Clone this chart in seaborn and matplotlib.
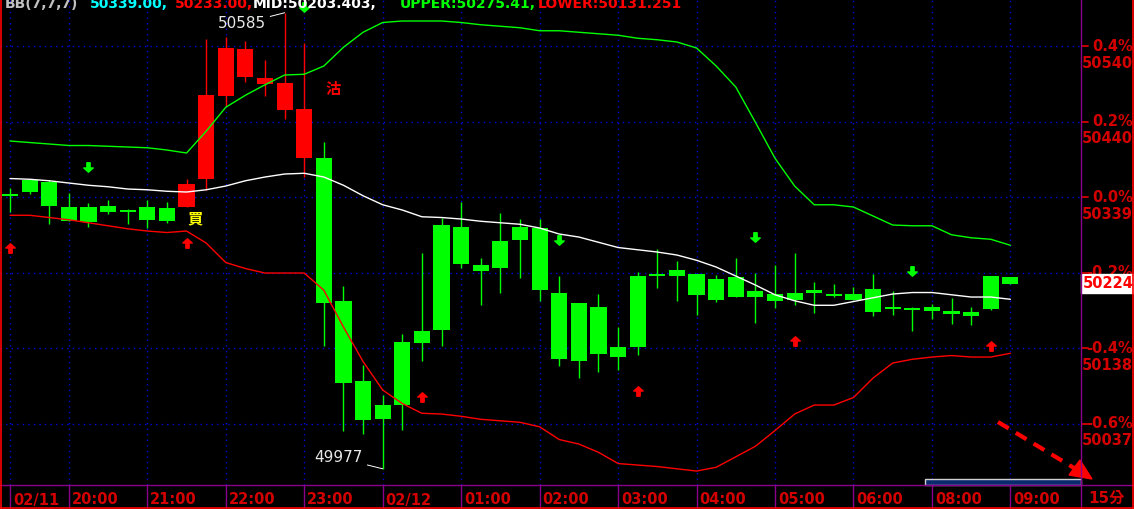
import numpy as np
import pandas as pd
import seaborn as sns
import matplotlib.pyplot as plt
from matplotlib import transforms
from matplotlib.path import Path
from matplotlib.lines import Line2D
from matplotlib.patches import Rectangle, Polygon

# 15 min bars, 02/11 19:15 -> 02/12 09:00
opens = [50342, 50362, 50360, 50326, 50326, 50327, 50322, 50326, 50325, 50326,
         50363, 50474, 50499, 50490, 50455, 50392, 50391, 50201, 50094, 50062,
         50146, 50161, 50302, 50299, 50249, 50281, 50299, 50298, 50211, 50198,
         50193, 50140, 50234, 50237, 50242, 50237, 50230, 50233, 50214, 50210,
         50211, 50215, 50210, 50210, 50217, 50193, 50190, 50193, 50185, 50186,
         50234, 50233]
highs = [50351, 50362, 50362, 50345, 50332, 50335, 50323, 50335, 50333, 50363,
         50550, 50553, 50547, 50522, 50585, 50545, 50413, 50221, 50115, 50075,
         50157, 50265, 50311, 50333, 50258, 50318, 50310, 50310, 50234, 50198,
         50210, 50166, 50239, 50270, 50254, 50237, 50235, 50258, 50238, 50249,
         50265, 50226, 50223, 50220, 50237, 50214, 50193, 50197, 50205, 50193,
         50234, 50233]
lows = [50320, 50343, 50303, 50307, 50300, 50317, 50303, 50298, 50305, 50326,
        50349, 50461, 50493, 50474, 50443, 50366, 50141, 50027, 50023, 49977,
        50029, 50121, 50141, 50245, 50195, 50211, 50231, 50201, 50114, 50098,
        50106, 50109, 50129, 50218, 50201, 50182, 50199, 50206, 50171, 50192,
        50195, 50185, 50206, 50202, 50181, 50182, 50161, 50177, 50170, 50169,
        50189, 50223]
closes = [50341, 50346, 50327, 50307, 50306, 50319, 50319, 50309, 50307, 50357,
          50475, 50538, 50537, 50498, 50491, 50457, 50198, 50091, 50042, 50043,
          50062, 50145, 50162, 50250, 50241, 50245, 50282, 50215, 50123, 50121,
          50130, 50126, 50139, 50234, 50234, 50209, 50202, 50206, 50206, 50201,
          50202, 50211, 50207, 50202, 50186, 50190, 50189, 50187, 50184, 50181,
          50190, 50224]

# bollinger bands as shown
upper = [50414, 50412, 50410, 50408, 50408, 50407, 50406, 50405, 50402, 50398,
         50427, 50459, 50475, 50489, 50502, 50503, 50514, 50539, 50559, 50572,
         50574, 50574, 50574, 50572, 50569, 50567, 50565, 50561, 50561, 50559,
         50557, 50555, 50551, 50549, 50546, 50538, 50514, 50486, 50439, 50391,
         50354, 50329, 50329, 50326, 50314, 50302, 50301, 50301, 50289, 50285,
         50283, 50275]
mid = [50364, 50363, 50361, 50358, 50355, 50353, 50350, 50349, 50347, 50346,
       50349, 50354, 50361, 50366, 50370, 50371, 50366, 50355, 50341, 50329,
       50322, 50313, 50312, 50310, 50307, 50305, 50303, 50298, 50290, 50286,
       50279, 50272, 50269, 50266, 50262, 50255, 50246, 50234, 50222, 50209,
       50201, 50195, 50195, 50200, 50205, 50210, 50212, 50212, 50209, 50206,
       50206, 50203]
lower = [50315, 50315, 50312, 50309, 50305, 50301, 50297, 50294, 50292, 50294,
         50278, 50252, 50244, 50238, 50238, 50238, 50215, 50166, 50120, 50082,
         50064, 50051, 50050, 50047, 50043, 50041, 50039, 50033, 50016, 50010,
         49999, 49984, 49982, 49980, 49977, 49974, 49979, 49993, 50007, 50028,
         50050, 50062, 50062, 50072, 50098, 50118, 50123, 50126, 50128, 50126,
         50126, 50131]

tick_idx = [0, 3, 7, 11, 15, 19, 23, 27, 31, 35, 39, 43, 47, 51]
tick_lbl = ['02/11', '20:00', '21:00', '22:00', '23:00', '02/12', '01:00',
            '02:00', '03:00', '04:00', '05:00', '06:00', '08:00', '09:00']
buy_idx = [0, 9, 21, 32, 40, 50]
sell_idx = [4, 15, 28, 38, 46]
pct_levels = [0.4, 0.2, 0.0, -0.2, -0.4, -0.6]
price_lbl = ['50540', '50440', '50339', '50238', '50138', '50037']
base = 50339
last = 50224

W, H = 1134, 509
RED = '#FF0000'
GRN = '#00FF00'
TXT = '#D40000'
BLUE = '#0000DD'
PURP = '#8B008B'

def fx(x):
    return x / W

def fy(y):
    return 1 - y / H

df = pd.DataFrame({'i': np.arange(len(opens)), 'open': opens, 'high': highs,
                   'low': lows, 'close': closes, 'upper': upper, 'mid': mid, 'lower': lower})

sns.set_style('dark', rc={'axes.facecolor': 'black', 'figure.facecolor': 'black'})
plt.rcParams['font.family'] = ['DejaVu Sans', 'Noto Sans CJK TC']

fig = plt.figure(figsize=(W / 100, H / 100), dpi=100)
ax = fig.add_axes([0, 24 / H, 1081 / W, 485 / H])
ax.set_facecolor('black')

# grid
for p in pct_levels:
    ax.axhline(base * (1 + p / 100), color=BLUE, lw=1, ls=(0, (1, 3)), zorder=1)
for i in tick_idx:
    ax.axvline(i, color=BLUE, lw=1, ls=(0, (1, 3)), zorder=1)

# candles
up = df.close > df.open
colors = np.where(up, RED, GRN)
body_lo = np.minimum(df.open, df.close)
body_h = np.maximum(np.abs(df.close - df.open), 3)
ax.vlines(df.i, df.low, df.high, colors=colors, lw=1, zorder=2)
ax.bar(df.i, body_h, bottom=body_lo, width=0.82, color=colors, linewidth=0, zorder=2)

# bands
sns.lineplot(data=df, x='i', y='upper', color=GRN, lw=1, ax=ax, zorder=3)
sns.lineplot(data=df, x='i', y='mid', color='white', lw=1, ax=ax, zorder=3)
sns.lineplot(data=df, x='i', y='lower', color=RED, lw=1, ax=ax, zorder=3)

ax.set_xlim(-0.51, 54.6)
ax.set_ylim(49955.4, 50602)
ax.set_xticks([])
ax.set_yticks([])
ax.set_xlabel('')
ax.set_ylabel('')
for s in ax.spines.values():
    s.set_visible(False)

# signal arrows
arrow_up = Path([(0, 1), (-1, 0.1), (-0.35, 0.1), (-0.35, -1), (0.35, -1),
                 (0.35, 0.1), (1, 0.1), (0, 1)], closed=True)
arrow_dn = Path([(x, -y) for x, y in arrow_up.vertices], closed=True)
t_below = transforms.offset_copy(ax.transData, fig=fig, x=0, y=-36, units='dots')
t_above = transforms.offset_copy(ax.transData, fig=fig, x=0, y=36, units='dots')
ax.plot(buy_idx, [lows[i] for i in buy_idx], ls='none', marker=arrow_up, ms=6.8,
        color=RED, mec=RED, transform=t_below, zorder=4)
ax.plot(sell_idx, [highs[i] for i in sell_idx], ls='none', marker=arrow_dn, ms=6.8,
        color=GRN, mec=GRN, transform=t_above, zorder=4, clip_on=False)

ax.annotate('買', xy=(9, lows[9]), xytext=(9, -11), textcoords='offset pixels',
            ha='center', va='center', color='#FFFF00', fontsize=11, fontweight='bold',
            family=['Noto Sans CJK TC'])
ax.annotate('沽', xy=(15, highs[15]), xytext=(29, -46), textcoords='offset pixels',
            ha='center', va='center', color=RED, fontsize=11, fontweight='bold',
            family=['Noto Sans CJK TC'])

# high / low marks
hi_i = int(np.argmax(highs))
lo_i = int(np.argmin(lows))
ax.annotate(f'{highs[hi_i]}', xy=(hi_i, highs[hi_i]), xytext=(-19, -11),
            textcoords='offset pixels', ha='right', va='center', color='#E8E8E8',
            fontsize=11, arrowprops=dict(arrowstyle='-', color='white', lw=0.7,
                                         shrinkA=1, shrinkB=0))
ax.annotate(f'{lows[lo_i]}', xy=(lo_i, lows[lo_i]), xytext=(-20, 11),
            textcoords='offset pixels', ha='right', va='center', color='#E8E8E8',
            fontsize=11, arrowprops=dict(arrowstyle='-', color='white', lw=0.7,
                                         shrinkA=1, shrinkB=0))

# right price axis
blend = transforms.blended_transform_factory(fig.transFigure, ax.transData)
blend_dn = transforms.offset_copy(blend, fig=fig, x=0, y=-17, units='dots')
for p, lbl in zip(pct_levels, price_lbl):
    yv = base * (1 + p / 100)
    fig.add_artist(Line2D([fx(1082), fx(1088)], [yv, yv], transform=blend, color=TXT, lw=1.3))
    ax.text(fx(1133), yv, f'{p:.1f}%', transform=blend, ha='right', va='center',
            color=TXT, fontsize=10.5, fontweight='bold', clip_on=False)
    ax.text(fx(1133), yv, lbl, transform=blend_dn, ha='right', va='center',
            color=TXT, fontsize=10.5, fontweight='bold', clip_on=False)

ax.text(fx(1108), last, f'{last}', transform=blend, ha='center', va='center',
        color=RED, fontsize=10.5, fontweight='bold', clip_on=False, zorder=6,
        bbox=dict(boxstyle='square,pad=0.12', fc='white', ec='white'))

# time axis
xblend = transforms.blended_transform_factory(ax.transData, fig.transFigure)
xblend_r = transforms.offset_copy(xblend, fig=fig, x=3, y=0, units='dots')
for i, lbl in zip(tick_idx, tick_lbl):
    fig.add_artist(Line2D([i, i], [fy(485), fy(507)], transform=xblend, color=PURP, lw=1))
    ax.text(i, fy(500), lbl, transform=xblend_r, ha='left', va='center', color=TXT,
            fontsize=10.5, fontweight='bold', clip_on=False)
fig.text(fx(1106), fy(498), '15分', ha='center', va='center', color=TXT,
         fontsize=11, fontweight='bold')

# frame lines
fig.add_artist(Line2D([0, 1], [fy(485), fy(485)], color=PURP, lw=1))
fig.add_artist(Line2D([fx(1081), fx(1081)], [0, 1], color=PURP, lw=1))
fig.add_artist(Line2D([0, 1], [fy(508), fy(508)], color=RED, lw=1.2))
fig.add_artist(Line2D([fx(1), fx(1)], [0, 1], color=RED, lw=1.2))
fig.add_artist(Line2D([fx(1133), fx(1133)], [0, 1], color=RED, lw=1.2))

# scroll bar
fig.add_artist(Rectangle((fx(925), fy(485)), fx(1081) - fx(925), 6 / H,
                         transform=fig.transFigure, fc='#0A2A6E', ec='#D0D0D0', lw=1))

# dashed red arrow to the right edge
fig.add_artist(Line2D([fx(998), fx(1074)], [fy(422), fy(468)], color=RED, lw=3,
                      ls=(0, (3, 2)), solid_capstyle='butt'))
fig.add_artist(Polygon([(fx(1092), fy(479)), (fx(1069), fy(475)), (fx(1080), fy(460))],
                       closed=True, transform=fig.transFigure, fc=RED, ec=RED))

# header line, mostly cut off by the top edge
hdr = [(5, 'BB(7,7,7)', '#C0C0C0'), (90, '50339.00,', '#00FFFF'),
       (175, '50233.00,', RED), (253, 'MID:50203.403,', 'white'),
       (400, 'UPPER:50275.41,', GRN), (538, 'LOWER:50131.251', RED)]
for x, s, c in hdr:
    fig.text(fx(x), fy(8), s, ha='left', va='baseline', color=c, fontsize=10,
             fontweight='bold')

fig.savefig('out.png', dpi=100, facecolor='black')
